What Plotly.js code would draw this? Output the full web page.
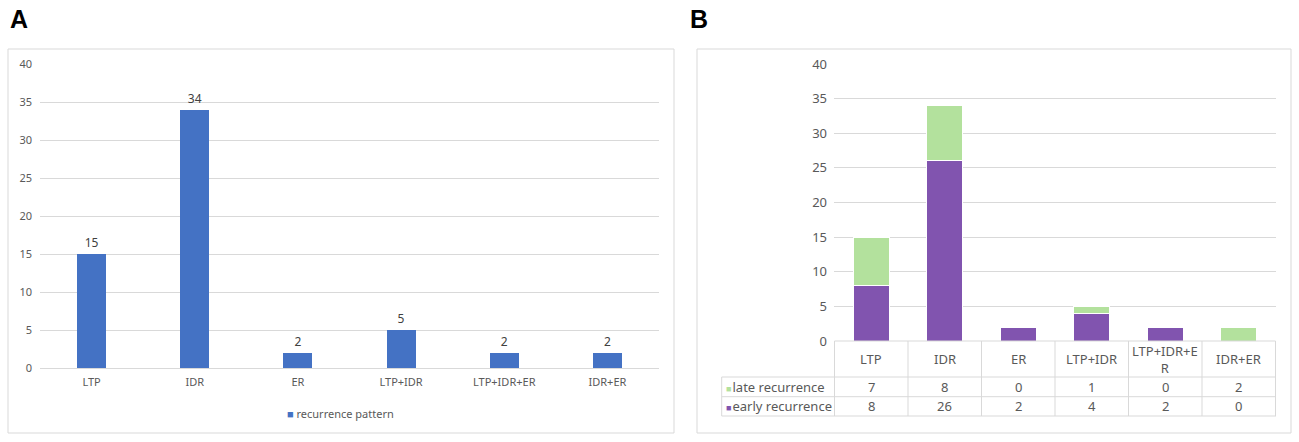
<!DOCTYPE html>
<html>
<head>
<meta charset="utf-8">
<script src="https://cdn.plot.ly/plotly-3.0.1.min.js"></script>
<style>html,body{margin:0;padding:0;background:#fff;}#chart{width:1299px;height:442px;}</style>
</head>
<body>
<div id="chart"></div>
<script>
// ---- data ----
const categories = ['LTP', 'IDR', 'ER', 'LTP+IDR', 'LTP+IDR+ER', 'IDR+ER'];
const tableHeaderLabels = ['LTP', 'IDR', 'ER', 'LTP+IDR', 'LTP+IDR+E<br>R', 'IDR+ER'];
const totalName = 'recurrence pattern';
const totalValues = [15, 34, 2, 5, 2, 2];
const lateName = 'late recurrence';
const lateValues = [7, 8, 0, 1, 0, 2];
const earlyName = 'early recurrence';
const earlyValues = [8, 26, 2, 4, 2, 0];
const yTicks = [0, 5, 10, 15, 20, 25, 30, 35, 40];
const panelLetters = ['A', 'B'];

// ---- layout helpers (pixel -> paper) ----
const W = 1299, H = 442;
const px = x => x / W;
const py = y => 1 - y / H;

const FONT = 'Noto Sans, Open Sans, sans-serif';
const GRID = '#d9d9d9';
const TXT = '#595959';
const BLUE = '#4472C4', PURPLE = '#8154AF', GREEN = '#B3E19D';

const traces = [
  {
    type: 'bar', name: totalName, x: categories, y: totalValues,
    xaxis: 'x', yaxis: 'y', width: 0.28,
    marker: {color: BLUE},
    text: totalValues.map(String), textposition: 'outside', cliponaxis: false,
    textfont: {family: FONT, size: 12, color: '#404040'},
    showlegend: false, hoverinfo: 'x+y'
  },
  {
    type: 'bar', name: earlyName, x: categories, y: earlyValues,
    xaxis: 'x2', yaxis: 'y2', width: 0.49,
    marker: {color: PURPLE, line: {color: '#ffffff', width: 1}},
    showlegend: false
  },
  {
    type: 'bar', name: lateName, x: categories, y: lateValues,
    xaxis: 'x2', yaxis: 'y2', width: 0.49,
    marker: {color: GREEN, line: {color: '#ffffff', width: 1}},
    showlegend: false
  }
];

const shapes = [];
const annotations = [];

// panel frames
shapes.push({type: 'rect', xref: 'paper', yref: 'paper', x0: px(8), x1: px(674), y0: py(433), y1: py(49), line: {color: GRID, width: 1}, layer: 'below'});
shapes.push({type: 'rect', xref: 'paper', yref: 'paper', x0: px(697), x1: px(1291), y0: py(433), y1: py(49), line: {color: GRID, width: 1}, layer: 'below'});

// panel letters
annotations.push({xref: 'paper', yref: 'paper', x: px(8), y: py(3), xanchor: 'left', yanchor: 'top', showarrow: false,
  text: '<b>' + panelLetters[0] + '</b>', font: {family: 'Liberation Sans, Arial, sans-serif', size: 25, color: '#000'}});
annotations.push({xref: 'paper', yref: 'paper', x: px(688), y: py(3), xanchor: 'left', yanchor: 'top', showarrow: false,
  text: '<b>' + panelLetters[1] + '</b>', font: {family: 'Liberation Sans, Arial, sans-serif', size: 25, color: '#000'}});

// legend of panel A
annotations.push({xref: 'paper', yref: 'paper', x: px(285), y: py(413), xanchor: 'left', yanchor: 'middle', showarrow: false,
  text: '<span style="color:' + BLUE + '">■</span> ' + totalName, font: {family: FONT, size: 11, color: TXT}});

// ---- data table of panel B ----
const tblLeft = px(721.7);
const yHead = py(341), yRow1 = py(377), yRow2 = py(396.7), yRow3 = py(416);
// horizontal lines
shapes.push({type: 'line', xref: 'x2', yref: 'paper', x0: -0.5, x1: categories.length - 0.5, y0: yHead, y1: yHead, line: {color: GRID, width: 1}});
[yRow1, yRow2, yRow3].forEach(yy => {
  shapes.push({type: 'line', xref: 'paper', yref: 'paper', x0: tblLeft, x1: px(1276), y0: yy, y1: yy, line: {color: GRID, width: 1}});
});
// vertical lines
for (let i = 0; i <= categories.length; i++) {
  shapes.push({type: 'line', xref: 'x2', yref: 'paper', x0: i - 0.5, x1: i - 0.5, y0: yHead, y1: yRow3, line: {color: GRID, width: 1}});
}
shapes.push({type: 'line', xref: 'paper', yref: 'paper', x0: tblLeft, x1: tblLeft, y0: yRow1, y1: yRow3, line: {color: GRID, width: 1}});

// header labels and cell values
categories.forEach((c, i) => {
  annotations.push({xref: 'x2', yref: 'paper', x: c, y: py(359), xanchor: 'center', yanchor: 'middle', showarrow: false,
    text: tableHeaderLabels[i], font: {family: FONT, size: 13, color: TXT}});
  annotations.push({xref: 'x2', yref: 'paper', x: c, y: py(386.9), xanchor: 'center', yanchor: 'middle', showarrow: false,
    text: String(lateValues[i]), font: {family: FONT, size: 13, color: TXT}});
  annotations.push({xref: 'x2', yref: 'paper', x: c, y: py(406.4), xanchor: 'center', yanchor: 'middle', showarrow: false,
    text: String(earlyValues[i]), font: {family: FONT, size: 13, color: TXT}});
});
// row legend keys
annotations.push({xref: 'paper', yref: 'paper', x: px(724), y: py(386.9), xanchor: 'left', yanchor: 'middle', showarrow: false,
  text: '<span style="color:' + GREEN + ';font-size:9px">■</span><span style="font-size:4px"> </span>' + lateName, font: {family: FONT, size: 13, color: TXT}});
annotations.push({xref: 'paper', yref: 'paper', x: px(724), y: py(406.4), xanchor: 'left', yanchor: 'middle', showarrow: false,
  text: '<span style="color:' + PURPLE + ';font-size:9px">■</span><span style="font-size:4px"> </span>' + earlyName, font: {family: FONT, size: 13, color: TXT}});

const layout = {
  width: W, height: H,
  margin: {l: 0, r: 0, t: 0, b: 0},
  paper_bgcolor: '#ffffff', plot_bgcolor: '#ffffff',
  barmode: 'stack',
  showlegend: false,
  font: {family: FONT, color: TXT},
  xaxis: {
    domain: [px(40), px(659)], anchor: 'y', type: 'category',
    showgrid: false, showline: false, ticks: '', zeroline: false,
    tickfont: {family: FONT, size: 11, color: TXT}, ticklabelstandoff: 6, fixedrange: true
  },
  yaxis: {
    domain: [py(368), py(64)], anchor: 'x', range: [0, 40],
    tickvals: yTicks, ticktext: yTicks.map(String),
    showgrid: true, gridcolor: GRID, gridwidth: 1,
    zeroline: true, zerolinecolor: GRID, zerolinewidth: 1,
    showline: false, ticks: '',
    tickfont: {family: FONT, size: 11, color: TXT}, ticklabelstandoff: 7, fixedrange: true
  },
  xaxis2: {
    domain: [px(834), px(1276)], anchor: 'y2', type: 'category',
    showgrid: false, showline: false, ticks: '', zeroline: false, showticklabels: false, fixedrange: true
  },
  yaxis2: {
    domain: [py(341), py(64)], anchor: 'x2', range: [0, 40],
    tickvals: yTicks, ticktext: yTicks.map(String),
    showgrid: true, gridcolor: GRID, gridwidth: 1,
    zeroline: false, showline: false, ticks: '',
    tickfont: {family: FONT, size: 13, color: TXT}, ticklabelstandoff: 6, fixedrange: true
  },
  shapes: shapes,
  annotations: annotations
};

Plotly.newPlot('chart', traces, layout, {displayModeBar: false, staticPlot: true});
</script>
</body>
</html>
